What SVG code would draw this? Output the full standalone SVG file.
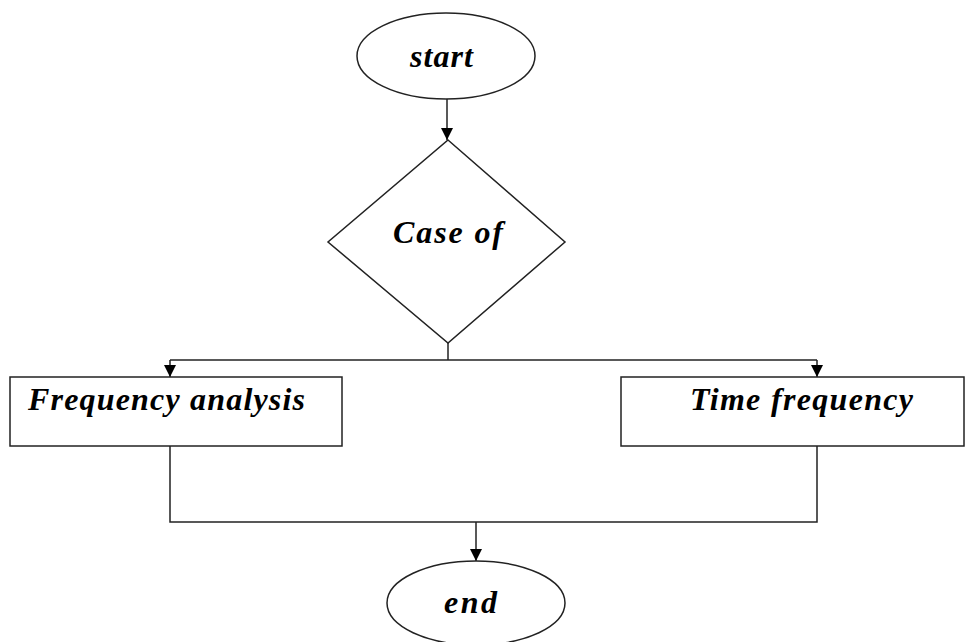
<svg xmlns="http://www.w3.org/2000/svg" width="965" height="642" viewBox="0 0 965 642">
  <defs>
    <marker id="arrow" viewBox="0 0 10 10" refX="10" refY="5" markerWidth="12" markerHeight="12" markerUnits="userSpaceOnUse" orient="auto">
      <path d="M0,0 L10,5 L0,10 z" fill="#000"/>
    </marker>
    <style>
      .shape { fill: #fff; stroke: #222; stroke-width: 1.5; }
      .edge { fill: none; stroke: #222; stroke-width: 1.5; }
      .label { font-family: "Liberation Serif", "Times New Roman", serif; font-weight: bold; font-style: italic; font-size: 32px; fill: #000; }
    </style>
  </defs>
  <rect width="965" height="642" fill="#fff"/>

  <g id="connectors">
    <path class="edge" d="M447,99 L447,140" marker-end="url(#arrow)"/>
    <path class="edge" d="M448,343 L448,360"/>
    <path class="edge" d="M170,360 L817,360"/>
    <path class="edge" d="M170,360 L170,377" marker-end="url(#arrow)"/>
    <path class="edge" d="M817,360 L817,377" marker-end="url(#arrow)"/>
    <path class="edge" d="M170,446 L170,522 L817,522 L817,446"/>
    <path class="edge" d="M476,522 L476,561" marker-end="url(#arrow)"/>
  </g>

  <g id="start">
    <ellipse class="shape" cx="446" cy="56" rx="89" ry="43"/>
    <text class="label" x="410" y="67" textLength="63">start</text>
  </g>

  <g id="case-of">
    <polygon class="shape" points="448,140 565,242 448,343 328,242"/>
    <text class="label" x="393" y="243" textLength="110">Case of</text>
  </g>

  <g id="frequency-analysis">
    <rect class="shape" x="10" y="377" width="332" height="69"/>
    <text class="label" x="28" y="410" textLength="277">Frequency analysis</text>
  </g>

  <g id="time-frequency">
    <rect class="shape" x="621" y="377" width="343" height="69"/>
    <text class="label" x="690" y="410" textLength="223">Time frequency</text>
  </g>

  <g id="end">
    <ellipse class="shape" cx="476" cy="603" rx="89" ry="42"/>
    <text class="label" x="444" y="613" textLength="53">end</text>
  </g>
</svg>
